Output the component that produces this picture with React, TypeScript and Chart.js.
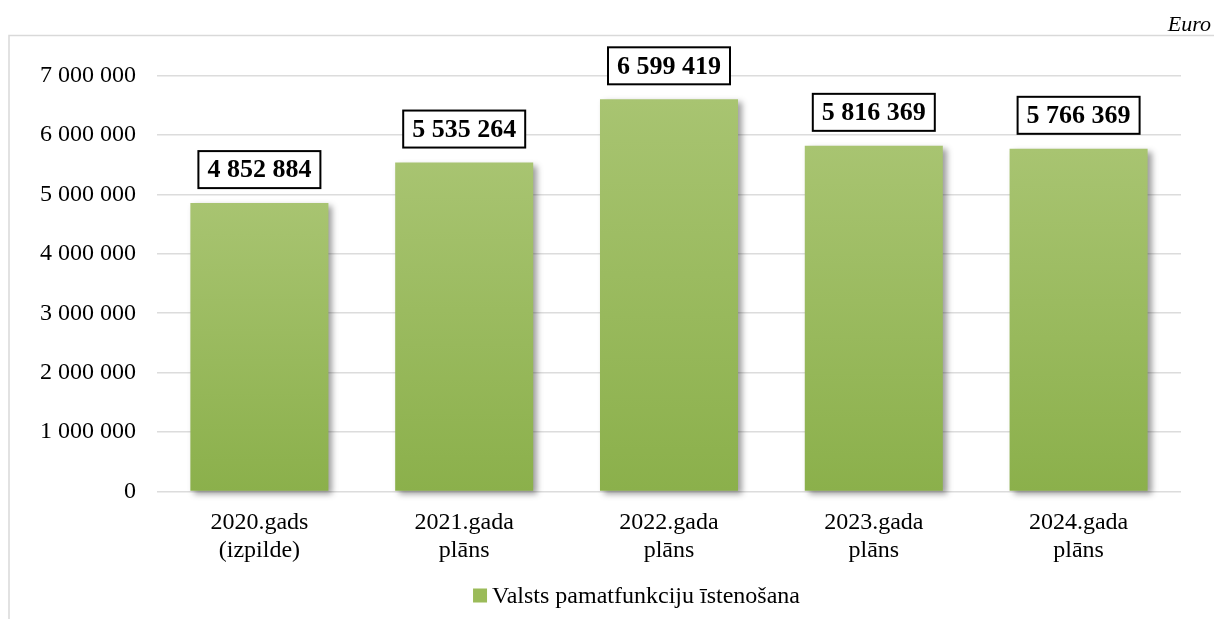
import React, { useEffect, useRef } from "react";
import { Chart, registerables } from "chart.js";

Chart.register(...registerables);

const categories: string[][] = [
  ["2020.gads", "(izpilde)"],
  ["2021.gada", "plāns"],
  ["2022.gada", "plāns"],
  ["2023.gada", "plāns"],
  ["2024.gada", "plāns"],
];
const values: number[] = [4852884, 5535264, 6599419, 5816369, 5766369];
const seriesName = "Valsts pamatfunkciju īstenošana";
const unitLabel = "Euro";
const yMin = 0;
const yMax = 7000000;
const yStep = 1000000;

const FONT = "'Liberation Serif', 'Times New Roman', serif";

const fmt = (v: number) =>
  Math.round(v)
    .toString()
    .replace(/\B(?=(\d{3})+(?!\d))/g, " ");

const framePlugin = {
  id: "frame",
  beforeDraw(chart: any) {
    const ctx = chart.ctx;
    ctx.save();
    ctx.strokeStyle = "#d9d9d9";
    ctx.lineWidth = 1.5;
    ctx.beginPath();
    ctx.moveTo(9, chart.height);
    ctx.lineTo(9, 35.5);
    ctx.lineTo(chart.width, 35.5);
    ctx.stroke();
    ctx.fillStyle = "#000";
    ctx.font = `italic 22px ${FONT}`;
    ctx.textAlign = "right";
    ctx.textBaseline = "alphabetic";
    ctx.fillText(unitLabel, 1211, 31);
    ctx.restore();
  },
  afterDraw(chart: any) {
    // legend
    const ctx = chart.ctx;
    ctx.save();
    ctx.font = `24px ${FONT}`;
    const tw = ctx.measureText(seriesName).width;
    const total = 14 + 5 + tw;
    const cx = 636.5;
    const x0 = cx - total / 2;
    const cy = 595.5;
    ctx.fillStyle = "#9bbb59";
    ctx.fillRect(x0, cy - 7, 14, 14);
    ctx.fillStyle = "#000";
    ctx.textAlign = "left";
    ctx.textBaseline = "middle";
    ctx.fillText(seriesName, x0 + 19, cy + 1);
    ctx.restore();
  },
};

const barStylePlugin = {
  id: "barStyle",
  beforeDatasetsDraw(chart: any) {
    const ctx = chart.ctx;
    ctx.save();
    ctx.shadowColor = "rgba(0,0,0,0.38)";
    ctx.shadowBlur = 6;
    ctx.shadowOffsetX = 4;
    ctx.shadowOffsetY = 3;
  },
  afterDatasetsDraw(chart: any) {
    const ctx = chart.ctx;
    ctx.restore();
    const meta = chart.getDatasetMeta(0);
    ctx.save();
    ctx.font = `bold 26px ${FONT}`;
    ctx.textAlign = "center";
    ctx.textBaseline = "middle";
    meta.data.forEach((el: any, i: number) => {
      const text = fmt(values[i]);
      const w = ctx.measureText(text).width + 18;
      const h = 37;
      const cx = el.x;
      const bottom = el.y - 15;
      const top = bottom - h;
      ctx.fillStyle = "#ffffff";
      ctx.fillRect(cx - w / 2, top, w, h);
      ctx.strokeStyle = "#000";
      ctx.lineWidth = 2;
      ctx.strokeRect(cx - w / 2, top, w, h);
      ctx.fillStyle = "#000";
      ctx.fillText(text, cx, top + h / 2 + 1);
    });
    ctx.restore();
  },
};

export default function App() {
  const ref = useRef<HTMLCanvasElement>(null);
  useEffect(() => {
    if (!ref.current) return;
    const chart = new Chart(ref.current, {
      type: "bar",
      data: {
        labels: categories,
        datasets: [
          {
            label: seriesName,
            data: values,
            clip: false as any,
            backgroundColor: (c: any) => {
              const ch = c.chart;
              const ys = ch.scales && ch.scales.y;
              if (!ys || c.dataIndex === undefined || !ch.chartArea) return "#9bbb59";
              const top = ys.getPixelForValue(values[c.dataIndex]);
              const base = ys.getPixelForValue(0);
              if (!isFinite(top) || !isFinite(base) || top === base) return "#9bbb59";
              const g = ch.ctx.createLinearGradient(0, top, 0, base);
              g.addColorStop(0, "#a8c471");
              g.addColorStop(1, "#8bb04b");
              return g;
            },
            borderWidth: 0,
            categoryPercentage: 0.674,
            barPercentage: 1,
          },
        ],
      },
      options: {
        responsive: false,
        animation: false,
        layout: { padding: { left: 0, right: 33, top: 75.5, bottom: 48.5 } },
        plugins: {
          legend: { display: false },
          tooltip: { enabled: false },
          title: { display: false },
        },
        scales: {
          x: {
            grid: { display: false },
            border: { display: false },
            ticks: {
              color: "#000",
              font: { family: FONT, size: 24, lineHeight: 1.17 },
              padding: 9,
              maxRotation: 0,
              autoSkip: false,
            },
            afterFit: (s: any) => {
              s.height = 79;
            },
          },
          y: {
            min: yMin,
            max: yMax,
            grid: { color: "#dcdcdc", lineWidth: 1.5, drawTicks: false },
            border: { display: false },
            ticks: {
              stepSize: yStep,
              color: "#000",
              font: { family: FONT, size: 24 },
              padding: 21,
              callback: (v: any) => fmt(Number(v)),
            },
            afterFit: (s: any) => {
              s.width = 157;
            },
          },
        },
      },
      plugins: [framePlugin, barStylePlugin],
    });
    return () => chart.destroy();
  }, []);
  return (
    <div style={{ position: "absolute", left: 0, top: 0, width: 1214, height: 619, background: "#fff" }}>
      <canvas ref={ref} width={1214} height={619} style={{ display: "block" }} />
    </div>
  );
}
